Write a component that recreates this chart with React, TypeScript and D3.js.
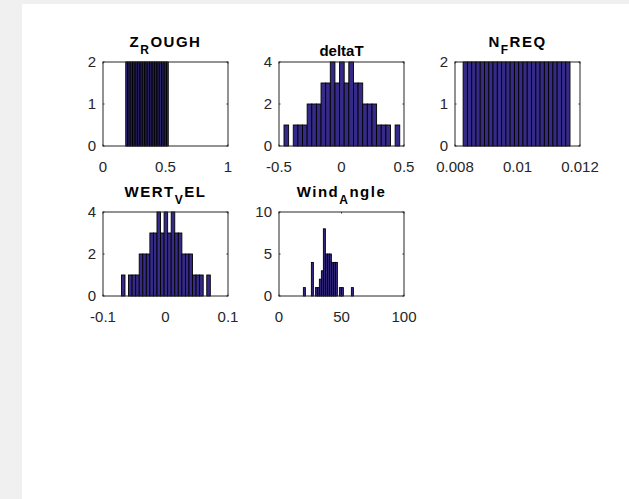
import * as d3 from 'd3'

// histogram counts per bin (25 bins each)
const zRoughCounts = [2, 2, 2, 2, 2, 2, 2, 2, 2, 2, 2, 2, 2, 2, 2, 2, 2, 2, 2, 2, 2, 2, 2, 2, 2]
const deltaTCounts = [1, 0, 1, 1, 1, 2, 2, 2, 3, 3, 4, 3, 4, 3, 4, 3, 3, 2, 2, 2, 1, 1, 1, 0, 1]
const nFreqCounts = [2, 2, 2, 2, 2, 2, 2, 2, 2, 2, 2, 2, 2, 2, 2, 2, 2, 2, 2, 2, 2, 2, 2, 2, 2]
const wertVelCounts = [1, 0, 1, 1, 1, 2, 2, 2, 3, 3, 4, 3, 4, 3, 4, 3, 3, 2, 2, 2, 1, 1, 1, 0, 1]
const windAngleCounts = [1, 0, 0, 0, 4, 0, 1, 1, 2, 3, 8, 5, 5, 5, 4, 4, 4, 0, 1, 1, 0, 0, 0, 0, 1]

// data min / max (first and last bin edge)
const zRoughRange = [0.182, 0.522]
const deltaTRange = [-0.46, 0.466]
const nFreqRange = [0.00826, 0.01168]
const wertVelRange = [-0.0705, 0.0717]
const windAngleRange = [19.5, 59.5]

// axis limits and ticks
const zRoughXTicks = [0, 0.5, 1]
const zRoughXLabels = ['0', '0.5', '1']
const zRoughYTicks = [0, 1, 2]
const deltaTXTicks = [-0.5, 0, 0.5]
const deltaTXLabels = ['-0.5', '0', '0.5']
const deltaTYTicks = [0, 2, 4]
const nFreqXTicks = [0.008, 0.01, 0.012]
const nFreqXLabels = ['0.008', '0.01', '0.012']
const nFreqYTicks = [0, 1, 2]
const wertVelXTicks = [-0.1, 0, 0.1]
const wertVelXLabels = ['-0.1', '0', '0.1']
const wertVelYTicks = [0, 2, 4]
const windAngleXTicks = [0, 50, 100]
const windAngleXLabels = ['0', '50', '100']
const windAngleYTicks = [0, 5, 10]

// title pieces: [main, subscript, rest]
const titles = [
  ['Z', 'R', 'OUGH'],
  ['deltaT', '', ''],
  ['N', 'F', 'REQ'],
  ['WERT', 'V', 'EL'],
  ['Wind', 'A', 'ngle'],
]

const panels = [
  { counts: zRoughCounts, range: zRoughRange, xTicks: zRoughXTicks, xLabels: zRoughXLabels, yTicks: zRoughYTicks },
  { counts: deltaTCounts, range: deltaTRange, xTicks: deltaTXTicks, xLabels: deltaTXLabels, yTicks: deltaTYTicks },
  { counts: nFreqCounts, range: nFreqRange, xTicks: nFreqXTicks, xLabels: nFreqXLabels, yTicks: nFreqYTicks },
  { counts: wertVelCounts, range: wertVelRange, xTicks: wertVelXTicks, xLabels: wertVelXLabels, yTicks: wertVelYTicks },
  { counts: windAngleCounts, range: windAngleRange, xTicks: windAngleXTicks, xLabels: windAngleXLabels, yTicks: windAngleYTicks },
]

const W = 629
const H = 499
const COLS = [103, 279, 455]
const ROWS = [62, 212]
const AW = 125
const AH = 84
const AX = '#262626'
const BAR = '#352a87'
const FONT = '"Liberation Sans", Arial, Helvetica, sans-serif'

function Panel({ idx }: { idx: number }) {
  const p = panels[idx]
  const left = COLS[idx % 3]
  const top = ROWS[Math.floor(idx / 3)]
  const xSc = d3.scaleLinear().domain([p.xTicks[0], p.xTicks[p.xTicks.length - 1]]).range([left, left + AW])
  const ySc = d3.scaleLinear().domain([p.yTicks[0], p.yTicks[p.yTicks.length - 1]]).range([top + AH, top])
  const n = p.counts.length
  const step = (p.range[1] - p.range[0]) / n
  const [main, sub, rest] = titles[idx]
  const tl = 1.5

  return (
    <g>
      <rect x={left} y={top} width={AW} height={AH} fill="#fff" />
      {p.counts.map((c, i) => {
        if (c <= 0) return null
        const x0 = xSc(p.range[0] + i * step)
        const x1 = xSc(p.range[0] + (i + 1) * step)
        return <rect key={i} x={x0} y={ySc(c)} width={x1 - x0} height={ySc(0) - ySc(c)} fill={BAR} stroke="#000" strokeWidth={0.9} />
      })}
      <rect x={left} y={top} width={AW} height={AH} fill="none" stroke={AX} strokeWidth={1} />
      {p.xTicks.map((t) => (
        <g key={'x' + t}>
          <line x1={xSc(t)} x2={xSc(t)} y1={top + AH} y2={top + AH - tl} stroke={AX} />
          <line x1={xSc(t)} x2={xSc(t)} y1={top} y2={top + tl} stroke={AX} />
        </g>
      ))}
      {p.yTicks.map((t) => (
        <g key={'y' + t}>
          <line x1={left} x2={left + tl} y1={ySc(t)} y2={ySc(t)} stroke={AX} />
          <line x1={left + AW} x2={left + AW - tl} y1={ySc(t)} y2={ySc(t)} stroke={AX} />
          <text x={left - 7} y={ySc(t)} dy="0.36em" textAnchor="end" fontSize={15} fill={AX} fontFamily={FONT}>{t}</text>
        </g>
      ))}
      {p.xTicks.map((t, i) => (
        <text key={'xl' + t} x={xSc(t)} y={top + AH + 26} textAnchor="middle" fontSize={15} fill={AX} fontFamily={FONT}>{p.xLabels[i]}</text>
      ))}
      <text x={left + AW / 2} y={sub ? top - 15.5 : top - 6.5} textAnchor="middle" fontSize={15} fontWeight="bold" fill="#000" fontFamily={FONT} letterSpacing={sub ? 1.5 : 0}>
        <tspan>{main}</tspan>
        {sub && <tspan dy={7} fontSize={12}>{sub}</tspan>}
        {rest && <tspan dy={-7}>{rest}</tspan>}
      </text>
    </g>
  )
}

export default function App() {
  return (
    <div style={{ position: 'fixed', left: 0, top: 0 }}>
      <svg width={W} height={H} style={{ display: 'block' }}>
        <rect x={0} y={0} width={W} height={H} fill="#f0f0f0" />
        <rect x={22} y={4} width={W - 22} height={H - 4} fill="#fff" />
        {panels.map((_, i) => <Panel key={i} idx={i} />)}
      </svg>
    </div>
  )
}
